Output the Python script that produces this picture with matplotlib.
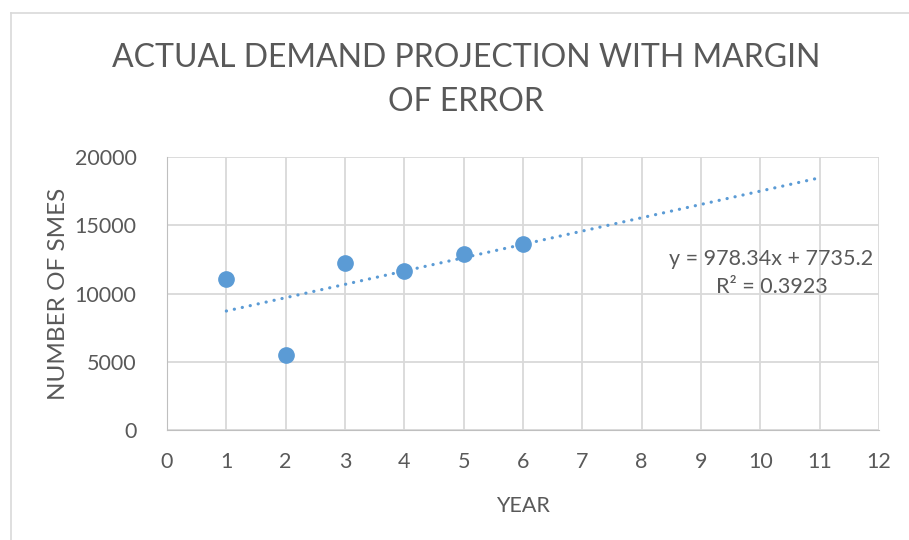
import numpy as np
import matplotlib
matplotlib.use("Agg")
import matplotlib.pyplot as plt
from matplotlib.lines import Line2D

plt.rcParams['font.family'] = ['Lato', 'DejaVu Sans']

# data
years = [1, 2, 3, 4, 5, 6]
smes = [11100, 5500, 12250, 11650, 12870, 13600]
slope = 978.34
intercept = 7735.2
r2 = 0.3923
trend_x = [1, 11]

blue = '#5B9BD5'
grey_txt = '#595959'
grid_col = '#D9D9D9'

fig = plt.figure(figsize=(9.09, 5.4), dpi=100)
ax = fig.add_axes([167/909, 1-429.7/540, (879-167)/909, (429.7-157.3)/540])

# chart area border (cut off by the image at right and bottom)
fig.add_artist(Line2D([11/909, 11/909], [0, 1-13/540], color=grid_col, lw=1.2))
fig.add_artist(Line2D([11/909, 1], [1-13/540, 1-13/540], color=grid_col, lw=1.2))

tx = np.array(trend_x, dtype=float)
ax.plot(tx, slope*tx + intercept, color=blue, lw=2.3,
        linestyle=(0, (0.05, 2.5)), dash_capstyle='round', zorder=3)
ax.plot(years, smes, 'o', color=blue, markersize=11, zorder=4)

ax.set_xlim(0, 12)
ax.set_ylim(0, 20000)
ax.set_xticks(range(0, 13))
ax.set_yticks(range(0, 20001, 5000))
ax.grid(True, color=grid_col, lw=1.3)
ax.set_axisbelow(True)
for s in ['top', 'right']:
    ax.spines[s].set_visible(False)
ax.spines['left'].set_color('#BFBFBF')
ax.spines['bottom'].set_color('#BFBFBF')
ax.tick_params(length=0, labelsize=15.5, colors=grey_txt)
ax.tick_params(axis='x', pad=16)
ax.tick_params(axis='y', pad=22)

ax.set_xlabel('YEAR', fontsize=15.5, color=grey_txt, labelpad=17)
ax.set_ylabel('NUMBER OF SMES', fontsize=17.5, color=grey_txt)
ax.yaxis.set_label_coords(-0.137, 0.5)

fig.text(466/909, 1-80/540, 'ACTUAL DEMAND PROJECTION WITH MARGIN\nOF ERROR',
         ha='center', va='center', fontsize=23, color=grey_txt, linespacing=1.6)

fig.text(771/909, 1-259/540, f'y = {slope}x + {intercept}', ha='center', va='center',
         fontsize=15.5, color=grey_txt)
fig.text(772/909, 1-287/540, f'R² = {r2}', ha='center', va='center',
         fontsize=15.5, color=grey_txt)

fig.savefig('out.png', dpi=100)
